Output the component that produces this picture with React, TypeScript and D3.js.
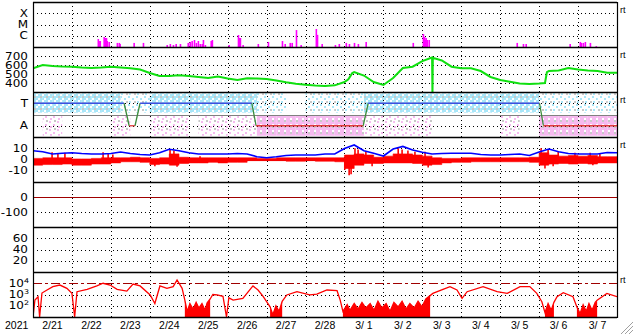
import React from 'react';
import * as d3 from 'd3';

// ---------------- data ----------------
const yearLabel = '2021';
const dayLabels = ['2/21', '2/22', '2/23', '2/24', '2/25', '2/26', '2/27', '2/28', '3/ 1', '3/ 2', '3/ 3', '3/ 4', '3/ 5', '3/ 6', '3/ 7'];

// X-ray flux (W/m^2), time in days since 2/21 00UT
const xrayTimes = [1.67, 1.69, 1.72, 1.82, 1.85, 1.88, 1.9, 1.95, 2.16, 2.21, 2.23, 2.59, 2.83, 3.44, 3.52, 3.6, 3.67, 3.78, 3.98, 4.03, 4.08, 4.14, 4.19, 4.24, 4.29, 4.34, 4.37, 4.42, 4.57, 4.6, 5.03, 5.27, 5.29, 5.32, 5.39, 5.78, 6.04, 6.4, 6.47, 6.6, 6.65, 6.76, 6.88, 7.27, 7.3, 7.42, 7.76, 7.86, 8.04, 8.12, 8.25, 8.35, 8.55, 9.76, 10.02, 10.05, 10.07, 10.09, 10.12, 10.17, 12.43, 12.59, 12.66, 13.79, 14.05, 14.08, 14.13, 14.18, 14.31, 14.46];
const xrayFlux = [5.1e-7, 3.4e-7, 3.4e-7, 7.7e-7, 6.3e-7, 6.3e-7, 3.4e-7, 2.8e-7, 2.3e-7, 2.3e-7, 1.85e-7, 2.3e-7, 2.3e-7, 1.5e-7, 1.85e-7, 1.5e-7, 1.85e-7, 1.85e-7, 2.3e-7, 2.8e-7, 3.4e-7, 4.2e-7, 2.3e-7, 3.4e-7, 1.85e-7, 1.85e-7, 4.2e-7, 1.5e-7, 3.4e-7, 4.2e-7, 1.5e-7, 1.17e-6, 6.3e-7, 6.3e-7, 1.5e-7, 1.85e-7, 2.8e-7, 3.4e-7, 1.85e-7, 2.3e-7, 2.3e-7, 3.2e-6, 1.5e-7, 4.0e-6, 1.2e-6, 1.85e-7, 1.5e-7, 1.85e-7, 2.3e-7, 1.85e-7, 2.3e-7, 1.85e-7, 2.8e-7, 2.3e-7, 1.43e-6, 7.7e-7, 4.2e-7, 6.3e-7, 4.2e-7, 4.2e-7, 2.3e-7, 1.85e-7, 1.85e-7, 1.85e-7, 2.8e-7, 2.3e-7, 2.3e-7, 2.8e-7, 2.3e-7, 1.2e-7];
const xrayClassLevels = [1e-4, 1e-5, 1e-6];
const xrayClassLabels = ['X', 'M', 'C'];

// Solar wind speed (km/s)
const speedTimes = [0, 0.25, 0.5, 0.75, 1, 1.25, 1.5, 1.75, 2, 2.25, 2.5, 2.75, 3, 3.25, 3.5, 3.75, 4, 4.25, 4.5, 4.75, 5, 5.25, 5.5, 5.75, 6, 6.25, 6.5, 6.75, 7, 7.25, 7.5, 7.75, 8, 8.1, 8.2, 8.25, 8.5, 8.75, 9, 9.25, 9.5, 9.75, 10, 10.25, 10.26, 10.27, 10.5, 10.75, 11, 11.25, 11.5, 11.75, 12, 12.25, 12.5, 12.75, 13, 13.15, 13.2, 13.25, 13.5, 13.75, 14, 14.25, 14.5, 14.75, 15];
const speedValues = [563, 600, 589, 583, 581, 572, 567, 572, 581, 572, 563, 550, 511, 478, 478, 486, 478, 467, 456, 472, 450, 433, 452, 450, 444, 428, 408, 392, 380, 372, 367, 374, 411, 440, 510, 522, 483, 411, 378, 456, 567, 581, 644, 683, 250, 680, 650, 581, 563, 563, 533, 467, 433, 414, 394, 389, 394, 400, 520, 533, 539, 567, 550, 539, 533, 514, 514];
const speedTicks = [700, 600, 500, 400];

// IMF sector
const sectorTimes = [0, 2.34, 2.47, 2.62, 2.75, 5.62, 5.73, 8.48, 8.61, 13.01, 13.11, 15];
const sectorValues = ['T', 'T', 'A', 'A', 'T', 'T', 'A', 'A', 'T', 'T', 'A', 'A'];
// 6-hour bins: how densely the IMF angle samples fill each side (0 none, 1 sparse, 2 dense)
const towardDensity = [2, 2, 2, 2, 2, 2, 2, 2, 2, 1, 1, 1, 2, 2, 2, 2, 2, 2, 2, 2, 2, 2, 2, 1, 1, 1, 0, 0, 1, 1, 1, 1, 1, 1, 2, 2, 2, 2, 2, 2, 2, 2, 2, 2, 2, 2, 2, 2, 2, 2, 2, 2, 1, 1, 1, 1, 1, 1, 1, 1];
const awayDensity = [0, 1, 1, 0, 0, 0, 0, 0, 1, 1, 0, 0, 1, 1, 1, 1, 0, 1, 1, 1, 1, 1, 1, 2, 2, 2, 2, 2, 2, 2, 2, 2, 2, 2, 1, 1, 1, 1, 1, 1, 1, 0, 0, 0, 0, 0, 0, 0, 1, 1, 0, 0, 2, 2, 2, 2, 2, 2, 2, 2];
const towardPhi = [10, 165];
const awayPhi = [190, 350];

// IMF Bt (every 6 h), Bz core range per 6-hour bin, and Bz spikes (nT)
const btValues = [7.8, 6.9, 4.9, 5.5, 6.0, 5.3, 4.9, 4.9, 5.3, 6.7, 5.3, 4.4, 4.0, 6.0, 9.1, 7.8, 6.0, 4.9, 4.9, 4.9, 4.9, 5.3, 4.9, 2.5, 1.6, 2.5, 3.6, 4.0, 4.0, 4.0, 4.9, 4.9, 9.8, 12.9, 7.8, 5.5, 3.1, 9.3, 11.6, 8.4, 6.4, 4.9, 5.3, 5.5, 5.5, 5.5, 4.4, 4.0, 4.0, 4.4, 4.9, 3.6, 6.7, 9.3, 6.9, 5.3, 4.9, 4.9, 4.9, 6.2, 6.0];
const bzHigh = [1, 1.5, 1.5, 1.5, 0.5, 0.5, 1, 1.5, 1.5, 1.5, 2, 1.5, 1, 1.5, 5, 2, 1.5, 1.5, 1.5, 1.5, 1.5, 1.5, 1.5, 1, 1, 1.5, 1.5, 1.5, 1.5, 1.5, 1.5, 1.5, 4, 5, 4, 2, 3, 5, 5, 4, 3, 1.5, 1, 1, 1.5, 1.5, 1.5, 1.5, 1.5, 1.5, 1.5, 2, 6, 4, 3, 3.5, 3, 3.5, 2.5, 2.5];
const bzLow = [-5, -4.5, -4.5, -4, -5, -5, -4, -4, -3, -2, -2, -2.5, -4.5, -4, -5, -3.5, -3, -3, -2.5, -3, -2.5, -2.5, -1, -1, -1, -1, -1.5, -1.5, -1, -1.5, -1.5, -2, -8, -5, -3.5, -3.5, -3, -3, -3, -3.5, -5, -4.5, -3, -2.5, -2.5, -2, -2, -2, -2, -2, -2, -2.5, -5, -4, -3.5, -4, -3.5, -4, -3, -3];
const bzSpikeTimes = [0.49, 0.64, 0.82, 1.8, 1.93, 2.05, 3.13, 3.52, 3.62, 3.7, 4.29, 8.01, 8.12, 8.17, 8.27, 8.35, 8.55, 8.71, 9.38, 9.48, 9.63, 9.81, 10.07, 10.15, 13.05, 13.15, 13.23, 13.36, 13.49, 13.92, 14.31, 14.38, 14.56];
const bzSpikeValues = [6.5, 5.5, 6, 6.5, 5, 4.5, -6, 8.5, 8, -6.5, 3, -9, -14, -13, 10, 9, 7, -6, 10, 9, 8, 7, 7, -7, 10, -8, 9, -6, 7, 6, 6, -5, 5];
const bTicks = [10, 0, -10];

// Dst and lower panel (no data in this period)
const dstTicks = [0, -100];
const aeTicks = [60, 40, 20];

// >2 MeV electron flux, log10
const eTimes = [0, 0.05, 0.13, 0.17, 0.23, 0.36, 0.51, 0.69, 0.87, 1.0, 1.07, 1.13, 1.39, 1.64, 1.8, 1.98, 2.16, 2.41, 2.57, 2.75, 3.01, 3.13, 3.26, 3.44, 3.6, 3.7, 3.83, 3.9, 3.96, 4.03, 4.11, 4.19, 4.26, 4.34, 4.42, 4.47, 4.55, 4.62, 4.73, 4.88, 4.97, 5.03, 5.14, 5.39, 5.65, 5.78, 5.91, 6.09, 6.16, 6.24, 6.32, 6.4, 6.52, 6.78, 7.11, 7.29, 7.55, 7.81, 7.89, 7.96, 8.07, 8.14, 8.25, 8.35, 8.45, 8.55, 8.66, 8.76, 8.86, 8.96, 9.07, 9.17, 9.27, 9.38, 9.48, 9.58, 9.68, 9.79, 9.89, 9.99, 10.09, 10.2, 10.27, 10.53, 10.71, 10.89, 11.02, 11.15, 11.56, 11.92, 12.18, 12.51, 12.76, 12.94, 13.07, 13.15, 13.23, 13.31, 13.38, 13.46, 13.62, 13.87, 13.97, 14.05, 14.13, 14.21, 14.28, 14.36, 14.44, 14.49, 14.74, 15];
const eLogFlux = [0.5, 2.51, 2.8, 0.5, 3.13, 3.4, 3.7, 3.84, 3.55, 3.1, 0.5, 3.25, 3.46, 3.76, 4.0, 3.84, 3.46, 3.3, 3.93, 3.76, 2.96, 2.2, 3.76, 3.55, 3.7, 4.29, 3.55, 2.5, 1.5, 2.2, 1.7, 2.3, 1.8, 2.2, 1.6, 2.24, 2.6, 3.0, 2.96, 2.84, 0.5, 2.7, 2.5, 2.66, 3.76, 3.4, 2.84, 1.9, 1.2, 2.0, 1.5, 2.4, 2.96, 3.25, 2.96, 3.04, 3.4, 3.34, 2.5, 1.5, 2.1, 1.6, 2.2, 1.7, 2.3, 1.8, 2.2, 1.6, 2.4, 1.8, 2.2, 1.5, 2.3, 1.9, 2.4, 1.7, 2.2, 1.8, 2.4, 1.9, 2.6, 2.9, 3.1, 3.46, 3.7, 3.4, 2.66, 3.25, 3.7, 3.25, 3.1, 3.7, 3.7, 3.1, 2.36, 1.4, 2.2, 1.6, 2.3, 2.8, 3.16, 2.8, 1.9, 1.3, 2.1, 1.5, 2.2, 1.6, 2.3, 2.5, 3.1, 2.8];
const eNoiseStart = [3.9, 6.05, 7.9, 13.1, 13.95];
const eNoiseEnd = [4.57, 6.45, 10.22, 13.44, 14.5];
const eTicks = [4, 3, 2];
const eAlertLevel = 4;

// ---------------- layout ----------------
const W = 633;
const H = 334;
const X0 = 33;
const X1 = 617;
const TOPS = [2, 47, 92, 137, 182, 227, 272];
const PH = 45;
const BOTTOM = TOPS[6] + PH;
const NDAYS = dayLabels.length;

const x = d3.scaleLinear().domain([0, NDAYS]).range([X0, X1]);
const yX = d3.scaleLog().domain([1e-7, 1e-3]).range([TOPS[0] + PH, TOPS[0]]);
const yV = d3.scaleLinear().domain([300, 800]).range([TOPS[1] + PH, TOPS[1]]);
const yPhi = d3.scaleLinear().domain([0, 360]).range([TOPS[2], TOPS[2] + PH]);
const yB = d3.scaleLinear().domain([-20, 20]).range([TOPS[3] + PH, TOPS[3]]);
const yDst = d3.scaleLinear().domain([-200, 100]).range([TOPS[4] + PH, TOPS[4]]);
const yAE = d3.scaleLinear().domain([0, 80]).range([TOPS[5] + PH, TOPS[5]]);
const yE = d3.scaleLinear().domain([1, 5]).range([TOPS[6] + PH, TOPS[6]]).clamp(true);

const FONT_Y = '"DejaVu Sans", sans-serif';
const FONT_X = '"Liberation Sans", Arial, sans-serif';
const DOT = '1,3';
const LBL_SCALE = 0.8;

const crisp = (v: number) => Math.round(v) + 0.5;

function Grid({ top, levels }: { top: number; levels: number[] }) {
  const dayLines = d3.range(1, NDAYS);
  return (
    <g>
      {dayLines.map((d) => (
        <line key={'v' + d} x1={crisp(x(d))} x2={crisp(x(d))} y1={top} y2={top + PH} stroke="#000" strokeWidth={1} strokeDasharray={DOT} />
      ))}
      {levels.map((yy, i) => (
        <line key={'h' + i} x1={X0} x2={X1} y1={crisp(yy)} y2={crisp(yy)} stroke="#000" strokeWidth={1} strokeDasharray={DOT} />
      ))}
    </g>
  );
}

function YLabel({ y, children, right = 28 }: { y: number; children: React.ReactNode; right?: number }) {
  return (
    <g transform={`translate(${right},${y}) scale(1,${LBL_SCALE})`}>
      <text x={0} y={4.4} textAnchor="end" fontFamily={FONT_Y} fontSize={12} fill="#000">
        {children}
      </text>
    </g>
  );
}

function RT({ top }: { top: number }) {
  return (
    <text x={620} y={top + 10.5} fontFamily={FONT_X} fontSize={9} fill="#000">
      rt
    </text>
  );
}

export default function App() {
  const speedLine = d3
    .line<number>()
    .x((_, i) => x(speedTimes[i]))
    .y((v) => yV(v))(speedValues) as string;

  const btLine = d3
    .line<number>()
    .x((_, i) => x(i * 0.25))
    .y((v) => yB(v))(btValues) as string;

  const bzIdx = d3.range(bzHigh.length + 1);
  const bzArea = d3
    .area<number>()
    .curve(d3.curveStepAfter)
    .x((i) => x(i * 0.25))
    .y0((i) => yB(bzLow[Math.min(i, bzLow.length - 1)]))
    .y1((i) => yB(bzHigh[Math.min(i, bzHigh.length - 1)]))(bzIdx) as string;

  const eLine = d3
    .line<number>()
    .x((_, i) => x(eTimes[i]))
    .y((v) => yE(v))(eLogFlux) as string;
  const inNoise = (t: number) => eNoiseStart.some((s, k) => t >= s && t <= eNoiseEnd[k]);
  const eIdx = d3.range(eTimes.length);
  const eArea = d3
    .area<number>()
    .defined((i) => inNoise(eTimes[i]))
    .x((i) => x(eTimes[i]))
    .y0(BOTTOM)
    .y1((i) => yE(eLogFlux[i]))(eIdx) as string;

  const sectorLevel = (s: string) => (s === 'T' ? 90 : 270);
  const sectorSegs = d3.range(sectorTimes.length - 1).map((i) => {
    const a = sectorValues[i];
    const b = sectorValues[i + 1];
    const color = a !== b ? '#3c8c3c' : a === 'T' ? '#3c50e0' : '#e03c3c';
    return {
      x1: x(sectorTimes[i]),
      x2: x(sectorTimes[i + 1]),
      y1: yPhi(sectorLevel(a)),
      y2: yPhi(sectorLevel(b)),
      color,
    };
  });

  const binW = x(0.25) - x(0);
  const LB = '#a8e6f8';
  const PK = '#f6baf0';
  const GR = '#c8c8c8';

  return (
    <svg width={W} height={H} style={{ position: 'absolute', left: 0, top: 0, background: '#fff' }}>
      <defs>
        {TOPS.map((t, i) => (
          <clipPath id={'clip' + i} key={i}>
            <rect x={X0} y={t} width={X1 - X0} height={PH} />
          </clipPath>
        ))}
        <pattern id="tDense" width={6} height={6} patternUnits="userSpaceOnUse">
          <rect x={0} y={0} width={4} height={2} fill={LB} />
          <rect x={4} y={0} width={2} height={2} fill={GR} />
          <rect x={0} y={2} width={2} height={2} fill={LB} />
          <rect x={4} y={2} width={2} height={2} fill={LB} />
          <rect x={2} y={4} width={4} height={2} fill={LB} />
        </pattern>
        <pattern id="tSparse" width={8} height={8} patternUnits="userSpaceOnUse">
          <rect x={0} y={0} width={2} height={2} fill={LB} />
          <rect x={4} y={2} width={2} height={2} fill={LB} />
          <rect x={6} y={5} width={2} height={2} fill={GR} />
          <rect x={1} y={5} width={2} height={2} fill={LB} />
        </pattern>
        <pattern id="aDense" width={6} height={6} patternUnits="userSpaceOnUse">
          <rect x={0} y={0} width={2} height={4} fill={PK} />
          <rect x={2} y={0} width={2} height={2} fill={GR} />
          <rect x={4} y={0} width={2} height={2} fill={PK} />
          <rect x={2} y={2} width={4} height={2} fill={PK} />
          <rect x={0} y={4} width={2} height={2} fill={PK} />
          <rect x={4} y={4} width={2} height={2} fill={PK} />
        </pattern>
        <pattern id="aSparse" width={8} height={8} patternUnits="userSpaceOnUse">
          <rect x={1} y={1} width={2} height={2} fill={PK} />
          <rect x={5} y={4} width={2} height={2} fill={PK} />
          <rect x={6} y={0} width={2} height={2} fill={GR} />
          <rect x={2} y={6} width={2} height={2} fill={PK} />
        </pattern>
      </defs>
      <rect x={0} y={0} width={W} height={H} fill="#fff" />

      {/* Panel 1: X-ray */}
      <Grid top={TOPS[0]} levels={xrayClassLevels.map((v) => yX(v))} />
      <g clipPath="url(#clip0)">
        {xrayTimes.map((t, i) => (
          <rect key={i} x={x(t) - 0.5} width={1.6} y={yX(xrayFlux[i])} height={TOPS[0] + PH - yX(xrayFlux[i])} fill="#ff00ff" />
        ))}
      </g>
      {xrayClassLevels.map((v, i) => (
        <YLabel key={i} y={yX(v)}>{xrayClassLabels[i]}</YLabel>
      ))}

      {/* Panel 2: speed */}
      <Grid top={TOPS[1]} levels={speedTicks.map((v) => yV(v))} />
      <g clipPath="url(#clip1)">
        <path d={speedLine} fill="none" stroke="#10e010" strokeWidth={2} />
      </g>
      {speedTicks.map((v) => (
        <YLabel key={v} y={yV(v)}>{String(v)}</YLabel>
      ))}

      {/* Panel 3: sector */}
      <g clipPath="url(#clip2)">
        {towardDensity.map((d, i) =>
          d > 0 ? (
            <rect key={'t' + i} x={x(i * 0.25)} width={binW} y={yPhi(towardPhi[0])} height={yPhi(towardPhi[1]) - yPhi(towardPhi[0])} fill={d === 2 ? 'url(#tDense)' : 'url(#tSparse)'} />
          ) : null
        )}
        {awayDensity.map((d, i) =>
          d > 0 ? (
            <rect key={'a' + i} x={x(i * 0.25)} width={binW} y={yPhi(awayPhi[0])} height={yPhi(awayPhi[1]) - yPhi(awayPhi[0])} fill={d === 2 ? 'url(#aDense)' : 'url(#aSparse)'} />
          ) : null
        )}
      </g>
      <Grid top={TOPS[2]} levels={[yPhi(90), yPhi(270)]} />
      <line x1={X0} x2={X1} y1={crisp(yPhi(180))} y2={crisp(yPhi(180))} stroke="#808080" strokeWidth={1.2} />
      {sectorSegs.map((s, i) => (
        <line key={i} x1={s.x1} x2={s.x2} y1={s.y1} y2={s.y2} stroke={s.color} strokeWidth={1.3} />
      ))}
      <YLabel y={yPhi(90)}>T</YLabel>
      <YLabel y={yPhi(270)}>A</YLabel>

      {/* Panel 4: IMF */}
      <Grid top={TOPS[3]} levels={bTicks.filter((v) => v !== 0).map((v) => yB(v))} />
      <line x1={X0} x2={X1} y1={crisp(yB(0))} y2={crisp(yB(0))} stroke="#a00000" strokeWidth={1} />
      <g clipPath="url(#clip3)">
        <path d={bzArea} fill="#ff0000" stroke="#ff0000" strokeWidth={0.6} />
        {bzSpikeTimes.map((t, i) => (
          <line key={i} x1={x(t)} x2={x(t)} y1={yB(0)} y2={yB(bzSpikeValues[i])} stroke="#ff0000" strokeWidth={1.6} />
        ))}
        <path d={btLine} fill="none" stroke="#0000ff" strokeWidth={1.6} />
      </g>
      {bTicks.map((v) => (
        <YLabel key={v} y={yB(v)}>{String(v)}</YLabel>
      ))}

      {/* Panel 5: Dst */}
      <Grid top={TOPS[4]} levels={[yDst(-100)]} />
      <line x1={X0} x2={X1} y1={crisp(yDst(0))} y2={crisp(yDst(0))} stroke="#a00000" strokeWidth={1} />
      {dstTicks.map((v) => (
        <YLabel key={v} y={yDst(v)}>{String(v)}</YLabel>
      ))}

      {/* Panel 6 */}
      <Grid top={TOPS[5]} levels={aeTicks.map((v) => yAE(v))} />
      {aeTicks.map((v) => (
        <YLabel key={v} y={yAE(v)}>{String(v)}</YLabel>
      ))}

      {/* Panel 7: electrons */}
      <Grid top={TOPS[6]} levels={eTicks.filter((v) => v !== eAlertLevel).map((v) => yE(v))} />
      <line x1={X0} x2={X1} y1={crisp(yE(eAlertLevel))} y2={crisp(yE(eAlertLevel))} stroke="#a00000" strokeWidth={1} strokeDasharray="9,3,3,3" />
      <g clipPath="url(#clip6)">
        <path d={eArea} fill="#ff0000" stroke="none" />
        <path d={eLine} fill="none" stroke="#ff0000" strokeWidth={1.3} />
      </g>
      {eTicks.map((v) => (
        <YLabel key={v} y={yE(v)} right={29}>
          10
          <tspan dy={-5} fontSize={8}>
            {v}
          </tspan>
        </YLabel>
      ))}

      {/* frames */}
      {TOPS.concat([BOTTOM]).map((t, i) => (
        <line key={i} x1={X0} x2={X1} y1={t + 0.5} y2={t + 0.5} stroke="#000" strokeWidth={1.5} />
      ))}
      <line x1={X0 + 0.5} x2={X0 + 0.5} y1={TOPS[0]} y2={BOTTOM + 1} stroke="#000" strokeWidth={1.2} />
      <line x1={X1 + 0.5} x2={X1 + 0.5} y1={TOPS[0]} y2={BOTTOM + 1} stroke="#000" strokeWidth={1.2} />

      {[0, 1, 2, 3, 6].map((i) => (
        <RT key={i} top={TOPS[i]} />
      ))}

      {/* x labels */}
      <text x={5} y={329} fontFamily={FONT_X} fontSize={10.5} fill="#000">
        {yearLabel}
      </text>
      {dayLabels.map((d, i) => (
        <text key={d} x={x(i + 0.5)} y={329} textAnchor="middle" fontFamily={FONT_X} fontSize={10.5} fill="#000">
          {d}
        </text>
      ))}

      {/* resize grip */}
      <g stroke="#a0a0a0" strokeWidth={1}>
        <line x1={633} y1={322} x2={621} y2={334} />
        <line x1={633} y1={326} x2={625} y2={334} />
        <line x1={633} y1={330} x2={629} y2={334} />
      </g>
    </svg>
  );
}
